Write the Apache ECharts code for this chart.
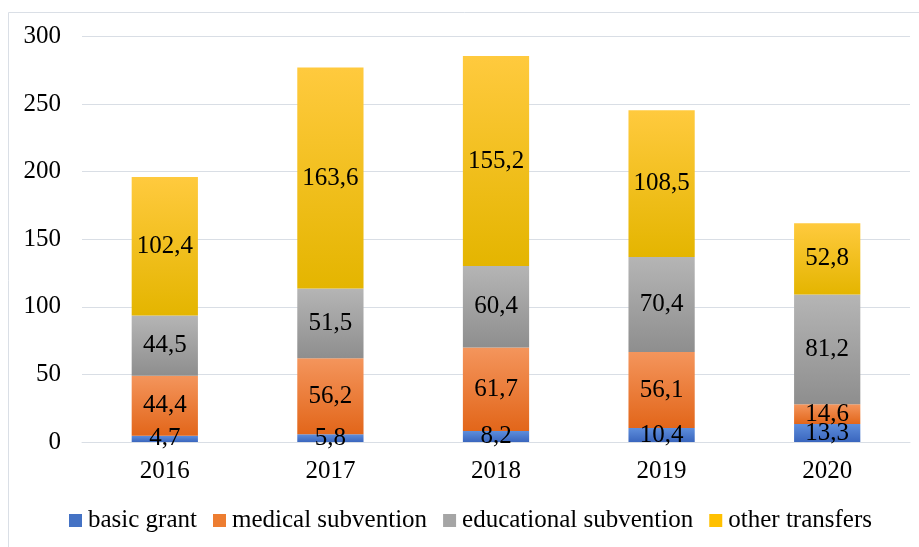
<!DOCTYPE html>
<html>
<head>
<meta charset="utf-8">
<script src="https://cdn.jsdelivr.net/npm/echarts@6/dist/echarts.min.js"></script>
<style>
html,body{margin:0;padding:0;background:#fff;}
#chart{width:919px;height:547px;}
</style>
</head>
<body>
<div id="chart"></div>
<script>
var categories = ['2016', '2017', '2018', '2019', '2020'];
var basicGrant = [4.7, 5.8, 8.2, 10.4, 13.3];
var medicalSubvention = [44.4, 56.2, 61.7, 56.1, 14.6];
var educationalSubvention = [44.5, 51.5, 60.4, 70.4, 81.2];
var otherTransfers = [102.4, 163.6, 155.2, 108.5, 52.8];
var seriesNames = ['basic grant', 'medical subvention', 'educational subvention', 'other transfers'];

var FONT = 'Liberation Serif';

function grad(top, bottom) {
  return new echarts.graphic.LinearGradient(0, 0, 0, 1, [
    { offset: 0, color: top },
    { offset: 1, color: bottom }
  ]);
}

var styles = [
  { fill: grad('#5E8EDC', '#3A66BE'), legend: '#4472C4' },
  { fill: grad('#F4955C', '#E2661A'), legend: '#ED7D31' },
  { fill: grad('#B5B5B5', '#8E8E8E'), legend: '#A5A5A5' },
  { fill: grad('#FFCA3E', '#E4B500'), legend: '#FFC000' }
];
var dataSets = [basicGrant, medicalSubvention, educationalSubvention, otherTransfers];

var chart = echarts.init(document.getElementById('chart'), null, { renderer: 'canvas' });

var series = seriesNames.map(function (name, i) {
  return {
    name: name,
    type: 'bar',
    stack: 'total',
    barWidth: '40%',
    data: dataSets[i],
    itemStyle: { color: styles[i].fill },
    label: {
      show: true,
      position: 'inside',
      color: '#000',
      fontFamily: FONT,
      fontSize: 25,
      formatter: function (p) { return String(p.value).replace('.', ','); }
    },
    emphasis: { disabled: true }
  };
});

chart.setOption({
  animation: false,
  backgroundColor: '#fff',
  graphic: [{
    type: 'rect',
    shape: { x: 8.5, y: 12.5, width: 1000, height: 700 },
    style: { fill: 'none', stroke: '#DADFE6', lineWidth: 1 },
    silent: true
  }],
  grid: { left: 82, right: 9, top: 36.5, bottom: 105, containLabel: false },
  legend: {
    left: 69,
    top: 508,
    padding: 0,
    itemWidth: 13,
    itemHeight: 13,
    itemGap: 16,
    icon: 'rect',
    textStyle: { fontFamily: FONT, fontSize: 25, color: '#000', padding: [0, 0, 0, 1] },
    data: seriesNames.map(function (n, i) {
      return { name: n, itemStyle: { color: styles[i].legend } };
    })
  },
  xAxis: {
    type: 'category',
    data: categories,
    axisLine: { show: true, lineStyle: { color: '#D9DEE5' } },
    axisTick: { show: false },
    axisLabel: { fontFamily: FONT, fontSize: 25, color: '#000', margin: 17 }
  },
  yAxis: {
    type: 'value',
    min: 0,
    max: 300,
    interval: 50,
    axisLine: { show: false },
    axisTick: { show: false },
    splitLine: { lineStyle: { color: '#D9DEE5', width: 1 } },
    axisLabel: { fontFamily: FONT, fontSize: 25, color: '#000', margin: 21 }
  },
  series: series
});
</script>
</body>
</html>
